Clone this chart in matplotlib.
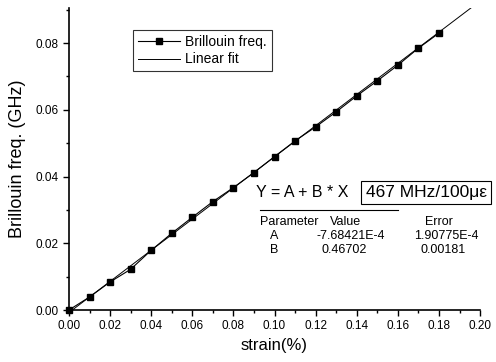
import matplotlib
matplotlib.use("Agg")
import matplotlib.pyplot as plt
from matplotlib.ticker import MultipleLocator
import numpy as np

plt.rcParams['font.family'] = ['Liberation Sans', 'DejaVu Sans']

strain = [0.00, 0.01, 0.02, 0.03, 0.04, 0.05, 0.06, 0.07, 0.08, 0.09,
          0.10, 0.11, 0.12, 0.13, 0.14, 0.15, 0.16, 0.17, 0.18]
freq = [0.0000, 0.0039, 0.0084, 0.0122, 0.0179, 0.0230, 0.0278, 0.0325, 0.0367, 0.0412,
        0.0460, 0.0507, 0.0549, 0.0594, 0.0642, 0.0687, 0.0734, 0.0785, 0.0830]
fit_a = -7.68421e-4
fit_b = 0.46702

fig = plt.figure(figsize=(4.96, 3.62), dpi=100)
ax = fig.add_axes([0.139, 0.1436, 0.829, 0.834])

xs = np.array([0.0, 0.2])
ax.plot(xs, fit_a + fit_b * xs, color='black', lw=0.7, label='Linear fit', zorder=2)
ax.plot(strain, freq, color='black', lw=0.8, marker='s', ms=5,
        label='Brillouin freq.', zorder=3, clip_on=False)

ax.set_xlim(0, 0.2)
ax.set_ylim(0, 0.0905)
ax.xaxis.set_major_locator(MultipleLocator(0.02))
ax.xaxis.set_minor_locator(MultipleLocator(0.01))
ax.yaxis.set_major_locator(MultipleLocator(0.02))
ax.yaxis.set_minor_locator(MultipleLocator(0.01))
ax.xaxis.set_major_formatter(plt.FormatStrFormatter('%.2f'))
ax.yaxis.set_major_formatter(plt.FormatStrFormatter('%.2f'))
ax.spines['top'].set_visible(False)
ax.spines['right'].set_visible(False)
ax.spines['left'].set_linewidth(1.2)
ax.spines['bottom'].set_linewidth(1.2)
ax.tick_params(which='major', direction='out', length=4, width=1, labelsize=8.5)
ax.tick_params(which='minor', direction='out', length=2.5, width=1)

ax.set_xlabel('strain(%)', fontsize=12, labelpad=4)
ax.set_ylabel('Brillouin freq. (GHz)', fontsize=13, labelpad=7)

handles, labels = ax.get_legend_handles_labels()
leg = ax.legend(handles[::-1], labels[::-1], loc='upper left', bbox_to_anchor=(0.156, 0.927),
                frameon=True, fancybox=False, edgecolor='black', fontsize=10,
                handlelength=3.0, borderpad=0.35, labelspacing=0.25, handletextpad=0.4,
                markerscale=0.8, borderaxespad=0)
leg.get_frame().set_linewidth(0.8)

tf = ax.transAxes
ax.text(0.455, 0.374, 'Y = A + B * X', transform=tf, fontsize=11.5, va='baseline')
ax.text(0.722, 0.374, '467 MHz/100\u03bc\u03b5', transform=tf, fontsize=12.5, va='baseline',
        bbox=dict(boxstyle='square,pad=0.25', fc='white', ec='black', lw=0.8))
ax.plot([0.465, 0.80], [0.331, 0.331], transform=tf, color='black', lw=0.8)
rows_y = [0.282, 0.235, 0.188]
ax.text(0.465, rows_y[0], 'Parameter', transform=tf, fontsize=9, va='baseline')
ax.text(0.635, rows_y[0], 'Value', transform=tf, fontsize=9, va='baseline')
ax.text(0.866, rows_y[0], 'Error', transform=tf, fontsize=9, va='baseline')
ax.text(0.49, rows_y[1], 'A', transform=tf, fontsize=9, va='baseline')
ax.text(0.603, rows_y[1], '-7.68421E-4', transform=tf, fontsize=9, va='baseline')
ax.text(0.84, rows_y[1], '1.90775E-4', transform=tf, fontsize=9, va='baseline')
ax.text(0.49, rows_y[2], 'B', transform=tf, fontsize=9, va='baseline')
ax.text(0.615, rows_y[2], '0.46702', transform=tf, fontsize=9, va='baseline')
ax.text(0.855, rows_y[2], '0.00181', transform=tf, fontsize=9, va='baseline')

fig.savefig('out.png', dpi=100)
